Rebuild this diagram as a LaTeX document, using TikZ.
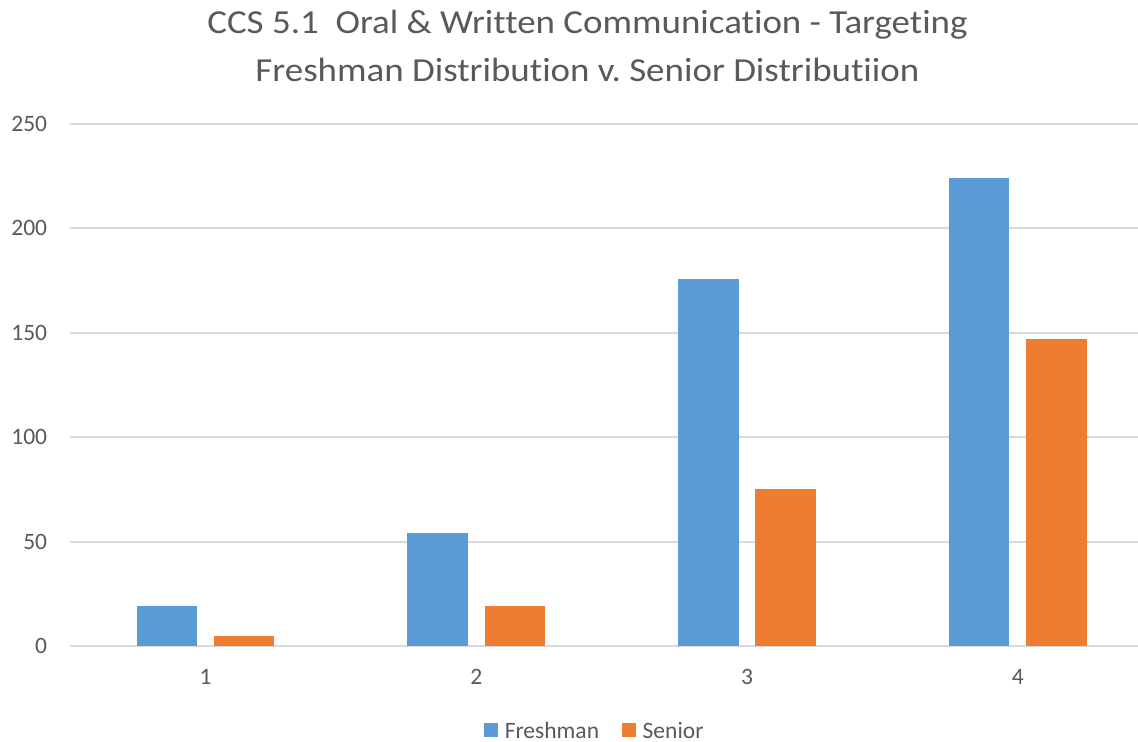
\documentclass[tikz,border=0pt]{standalone}
\usepackage{fontspec}
\setmainfont{Carlito}[Ligatures=NoCommon]
\usepackage{xcolor}
\usetikzlibrary{positioning}
\definecolor{freshblue}{RGB}{91,155,213}
\definecolor{seniororange}{RGB}{237,125,49}
\definecolor{gridgray}{RGB}{217,217,217}
\definecolor{labelgray}{RGB}{89,89,89}

\begin{document}
\begin{tikzpicture}[x=0.5pt,y=0.5pt,font=\fontsize{11.75}{14}\selectfont,text=labelgray,
  gridline/.style={gridgray,line width=1pt},
  titletext/.style={font=\fontsize{16.8}{20}\selectfont,anchor=base,inner sep=0pt},
  legendkey/.style={minimum size=7pt,inner sep=0pt},
  legendtext/.style={inner sep=0pt}]
  \useasboundingbox (0,0) rectangle (1138,741);
  \node[titletext] (title) at (587.5,707) {\scalebox{1.1}[1]{CCS 5.1~~Oral \& Written Communication - Targeting}};
  \node[titletext] (subtitle) at (587.5,660) {\scalebox{1.1}[1]{Freshman Distribution v.\ Senior Distributiion}};
  \begin{scope}[shift={(0,95)},y=1.044pt]
    \foreach \v in {0,50,...,250} {
      \draw[gridline] (70,\v) -- (1138,\v);
      \node[anchor=east,inner sep=0pt] (ylab\v) at (47.5,\v) {\v};
    }
    \foreach \i/\f/\s in {1/19/5,2/54/19,3/176/75,4/224/147} {
      \pgfmathsetmacro{\cx}{205.5+270.75*(\i-1)}
      \fill[freshblue] (\cx-69,0) rectangle (\cx-8.4,\f);
      \fill[seniororange] (\cx+8.3,0) rectangle (\cx+68.9,\s);
    }
  \end{scope}
  \foreach \i in {1,...,4}
    \node[anchor=base,inner sep=0pt] (xlab\i) at (205.5+270.75*\i-270.75,57) {\i};
  \node[legendkey,fill=freshblue] (keyfresh) at (491,11) {};
  \node[legendtext,right=3pt of keyfresh] (txtfresh) {Freshman};
  \node[legendkey,fill=seniororange,right=11pt of txtfresh] (keysenior) {};
  \node[legendtext,right=3pt of keysenior] (txtsenior) {Senior};
\end{tikzpicture}
\end{document}
